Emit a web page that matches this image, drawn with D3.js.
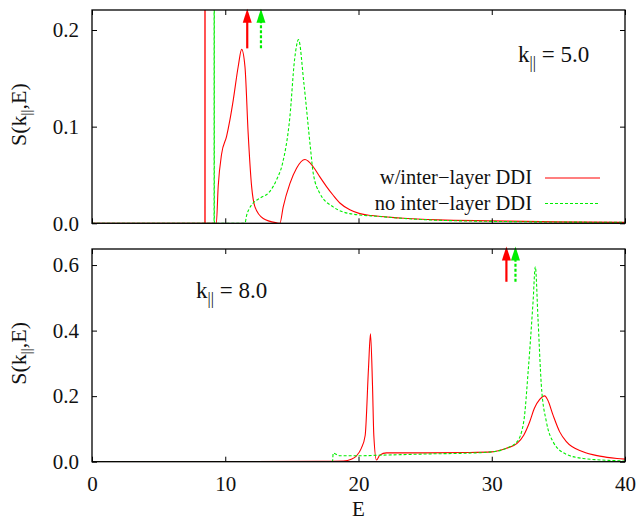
<!DOCTYPE html>
<html>
<head>
<meta charset="utf-8">
<script src="https://cdn.jsdelivr.net/npm/d3@7"></script>
<style>
  body { margin: 0; background: #fff; }
  svg text { font-family: "Liberation Serif", "Times New Roman", Times, "DejaVu Serif", serif !important; }
</style>
</head>
<body>
<script>
// data
const topRedE   = [0, 8.46, 8.47, 8.48, 8.49, 9.33, 9.47, 9.73, 10.1, 10.35, 10.6, 10.97, 11.23, 11.48, 11.72, 11.98, 12.23, 12.85, 13.85, 14.1, 14.35, 14.85, 15.35, 15.98, 16.6, 17.1, 17.6, 18.1, 18.6, 19.35, 20.1, 21, 23.1, 26, 30, 35, 40];
const topRedS   = [0, 0, 0, 2, 0, 0, 0.038, 0.072, 0.09, 0.107, 0.1275, 0.162, 0.18, 0.162, 0.093, 0.038, 0.017, 0.005, 0.0005, 0, 0.017, 0.041, 0.057, 0.066, 0.0585, 0.048, 0.038, 0.029, 0.021, 0.014, 0.010, 0.008, 0.0055, 0.0035, 0.0025, 0.0015, 0.001];
const topGreenE = [0, 9.15, 9.16, 9.17, 9.18, 11.48, 11.6, 11.8, 12.1, 12.6, 13.35, 13.85, 14.3, 14.85, 15.2, 15.5, 15.9, 16.4, 16.6, 17.1, 18.1, 19.35, 21.6, 24.6, 30, 40];
const topGreenS = [0, 0, 0, 2, 0, 0, 0.008, 0.015, 0.021, 0.026, 0.033, 0.045, 0.062, 0.11, 0.169, 0.19, 0.145, 0.077, 0.052, 0.031, 0.017, 0.010, 0.007, 0.004, 0.002, 0.001];

const botRedE   = [0, 17, 18.85, 19.5, 19.85, 20.2, 20.5, 20.75, 20.9, 21.05, 21.15, 21.35, 21.6, 22.1, 25, 28, 30, 31.1, 31.9, 32.4, 32.85, 33.2, 33.6, 33.98, 34.2, 34.6, 35.1, 35.6, 36.85, 38.1, 39.4, 40];
const botRedS   = [0, 0.001, 0.002, 0.008, 0.018, 0.04, 0.08, 0.285, 0.39, 0.234, 0.08, 0.005, 0.02, 0.027, 0.027, 0.028, 0.03, 0.041, 0.056, 0.081, 0.122, 0.163, 0.19, 0.201, 0.188, 0.142, 0.091, 0.061, 0.03, 0.017, 0.010, 0.008];
const botGreenE = [0, 18.05, 18.1, 18.6, 19.85, 21.8, 25.6, 28.1, 30, 31.1, 31.9, 32.4, 32.75, 33.1, 33.27, 33.47, 33.72, 34.1, 34.6, 35.6, 36.85, 39.4, 40];
const botGreenS = [0, 0, 0.026, 0.018, 0.018, 0.02, 0.024, 0.026, 0.03, 0.041, 0.061, 0.122, 0.285, 0.488, 0.595, 0.437, 0.234, 0.122, 0.061, 0.0225, 0.010, 0.003, 0.002];

// arrows: positions and vertical extent (in S units)
const topArrowE = [11.65, 12.68];
const topArrowS = [0.181, 0.222];
const botArrowE = [31.1, 31.78];
const botArrowS = [0.549, 0.657];

const xTicks = [0, 10, 20, 30, 40];
const topYTicks = [0, 0.1, 0.2];
const botYTicks = [0, 0.2, 0.4, 0.6];
const seriesNames = ["w/inter\u2212layer DDI", "no inter\u2212layer DDI"];

// layout
const width = 636, height = 521;
const left = 92, right = 625;
const red = "#ff0000", green = "#00ee00";
const fs = 21;

const svg = d3.select("body").append("svg")
    .attr("width", width).attr("height", height);

const x = d3.scaleLinear().domain([0, 40]).range([left, right]);

function panel(id, y0, y1, ymax, yTicks, curves, arrows) {
  const y = d3.scaleLinear().domain([0, ymax]).range([y1, y0]);
  const g = svg.append("g");

  svg.append("clipPath").attr("id", id)
    .append("rect").attr("x", left).attr("y", y0).attr("width", right - left).attr("height", y1 - y0);

  const line = d3.line().x(d => x(d[0])).y(d => y(d[1])).curve(d3.curveMonotoneX);

  g.append("g").attr("clip-path", `url(#${id})`)
    .selectAll("path").data(curves).join("path")
    .attr("d", c => line(d3.zip(c.e, c.s)))
    .attr("fill", "none")
    .attr("stroke", c => c.color)
    .attr("stroke-width", 1.1)
    .attr("stroke-dasharray", c => c.dash ? "3,2" : null);

  // arrows
  arrows.forEach(a => {
    const xa = x(a.e), yb = y(a.s[0]), yt = y(a.s[1]);
    g.append("line")
      .attr("x1", xa).attr("x2", xa).attr("y1", yb).attr("y2", yt + 12)
      .attr("stroke", a.color).attr("stroke-width", 2.2)
      .attr("stroke-dasharray", a.dash ? "3,2" : null);
    g.append("path")
      .attr("d", `M${xa},${yt}L${xa - 4.5},${yt + 14}L${xa + 4.5},${yt + 14}Z`)
      .attr("fill", a.color);
  });

  // axes with inward ticks
  const fmt = d3.format(".1f");
  const xb = g.append("g").attr("transform", `translate(0,${y1})`)
    .call(d3.axisBottom(x).tickValues(xTicks).tickSize(-5).tickPadding(14)
      .tickFormat(id === "clipBot" ? d3.format("d") : ""));
  const xt = g.append("g").attr("transform", `translate(0,${y0})`)
    .call(d3.axisTop(x).tickValues(xTicks).tickSize(-5).tickFormat(""));
  const yl = g.append("g").attr("transform", `translate(${left},0)`)
    .call(d3.axisLeft(y).tickValues(yTicks).tickSize(-5).tickPadding(13).tickFormat(fmt));
  const yr = g.append("g").attr("transform", `translate(${right},0)`)
    .call(d3.axisRight(y).tickValues(yTicks).tickSize(-5).tickFormat(""));

  [xb, xt, yl, yr].forEach(a => {
    a.select(".domain").remove();
    a.selectAll("line").attr("stroke", "#000");
    a.selectAll("text").attr("font-size", fs).attr("fill", "#111");
  });

  g.append("rect")
    .attr("x", left).attr("y", y0).attr("width", right - left).attr("height", y1 - y0)
    .attr("fill", "none").attr("stroke", "#000").attr("stroke-width", 1.3);

  // y label
  const lab = g.append("text")
    .attr("transform", `translate(26,${(y0 + y1) / 2 - 2}) rotate(-90)`)
    .attr("text-anchor", "middle").attr("font-size", 22).attr("fill", "#111");
  lab.append("tspan").text("S(k");
  lab.append("tspan").attr("font-size", 15).attr("dy", 5).text("||");
  lab.append("tspan").attr("dy", -5).text(",E)");

  return { g, y };
}

const topPanel = panel("clipTop", 10, 223.3, 0.2207, topYTicks, [
  { e: topRedE, s: topRedS, color: red, dash: false },
  { e: topGreenE, s: topGreenS, color: green, dash: true }
], [
  { e: topArrowE[0], s: topArrowS, color: red, dash: false },
  { e: topArrowE[1], s: topArrowS, color: green, dash: true }
]);

const botPanel = panel("clipBot", 249, 461.7, 0.649, botYTicks, [
  { e: botRedE, s: botRedS, color: red, dash: false },
  { e: botGreenE, s: botGreenS, color: green, dash: true }
], [
  { e: botArrowE[0], s: botArrowS, color: red, dash: false },
  { e: botArrowE[1], s: botArrowS, color: green, dash: true }
]);

// k labels
function kLabel(g, xp, yp, val) {
  const t = g.append("text").attr("x", xp).attr("y", yp).attr("font-size", 23).attr("fill", "#111");
  t.append("tspan").text("k");
  t.append("tspan").attr("font-size", 16).attr("dy", 6).text("||");
  t.append("tspan").attr("dy", -6).text(" = " + val);
}
kLabel(topPanel.g, 518, 61.5, "5.0");
kLabel(botPanel.g, 196, 298, "8.0");

// legend
const legend = topPanel.g.append("g");
seriesNames.forEach((n, i) => {
  const yy = 184 + i * 25.5;
  legend.append("text").attr("x", 532).attr("y", yy).attr("text-anchor", "end")
    .attr("font-size", 20.5).attr("fill", "#111").text(n);
  legend.append("line").attr("x1", 545).attr("x2", 600).attr("y1", yy - 6).attr("y2", yy - 6)
    .attr("stroke", i === 0 ? red : green).attr("stroke-width", 1.1)
    .attr("stroke-dasharray", i === 0 ? null : "3,2");
});

// x label
svg.append("text").attr("x", x(20)).attr("y", 516).attr("text-anchor", "middle")
  .attr("font-size", fs).attr("fill", "#111").text("E");
</script>
</body>
</html>
